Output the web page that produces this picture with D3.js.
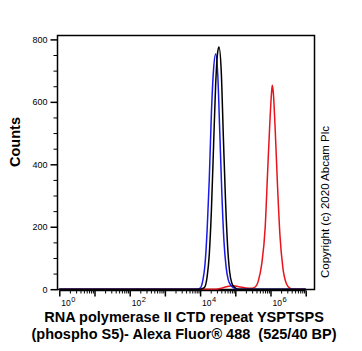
<!DOCTYPE html>
<html><head><meta charset="utf-8">
<script src="https://cdn.jsdelivr.net/npm/d3@7"></script>
<style>body{margin:0;background:#fff}svg{display:block}</style>
</head><body>
<script>
// log10 fluorescence positions and counts
const blueX = [0, 3.9, 4.0, 4.08, 4.14, 4.2, 4.26, 4.32, 4.38, 4.443, 4.5, 4.56, 4.62, 4.68, 4.74, 4.8, 4.88, 4.96, 5.05, 7];
const blueY = [0, 0, 3, 30, 80, 190, 350, 560, 700, 753, 690, 500, 300, 150, 70, 30, 12, 4, 0, 0];
const blackX = [0, 4.0, 4.12, 4.2, 4.26, 4.32, 4.38, 4.44, 4.5, 4.537, 4.6, 4.66, 4.72, 4.78, 4.84, 4.9, 4.98, 5.08, 7];
const blackY = [0, 0, 5, 40, 110, 250, 450, 650, 760, 776, 700, 490, 290, 140, 55, 20, 6, 0, 0];
const redX = [0, 4.45, 4.6, 4.75, 4.9, 5.0, 5.15, 5.3, 5.45, 5.55, 5.65, 5.75, 5.85, 5.92, 5.98, 6.03, 6.051, 6.08, 6.13, 6.2, 6.27, 6.35, 6.45, 6.55, 6.65, 7];
const redY = [0, 0, 3, 8, 11, 10, 7, 4, 3, 6, 25, 80, 200, 380, 530, 630, 653, 630, 520, 330, 170, 70, 18, 3, 0, 0];
const yTicks = [0, 200, 400, 600, 800];
const xDecades = [0, 2, 4, 6];
const titleLines = ["RNA polymerase II CTD repeat YSPTSPS", "(phospho S5)- Alexa Fluor\u00AE 488  (525/40 BP)"];

const W = 362, H = 351;
const svg = d3.select("body").append("svg").attr("width", W).attr("height", H);
const font = "Arial, 'Liberation Sans', sans-serif";

const x = d3.scaleLog().domain([1, 1e7]).range([59.3, 305.7]);
const y = d3.scaleLinear().domain([0, 800]).range([289.2, 39.4]);

// frame
svg.append("rect").attr("x", 57.5).attr("y", 35.5).attr("width", 257).attr("height", 254)
  .attr("fill", "none").attr("stroke", "#000").attr("stroke-width", 1.5);

// curves
const line = d3.line().x(d => x(Math.pow(10, d[0]))).y(d => y(d[1])).curve(d3.curveMonotoneX);
const series = [
  {xs: redX, ys: redY, c: "#e8141c"},
  {xs: blueX, ys: blueY, c: "#1a1ae6"},
  {xs: blackX, ys: blackY, c: "#000000"}
];
series.forEach(s => {
  svg.append("path").datum(s.xs.map((v, i) => [v, s.ys[i]]))
    .attr("d", line).attr("fill", "none").attr("stroke", s.c).attr("stroke-width", 1.5);
});

// y axis
const yAxis = d3.axisLeft(y).tickValues(yTicks).tickSize(7).tickPadding(3).tickFormat(d3.format("d"));
const ga = svg.append("g").attr("transform", "translate(57.5,0)").call(yAxis);
ga.select(".domain").remove();
ga.selectAll("line").attr("stroke-width", 1.5);
ga.selectAll("text").attr("font-family", font).attr("font-size", 9).attr("fill", "#000");
const yMinor = d3.range(0, 801, 50).filter(v => v % 200 !== 0);
svg.append("g").attr("transform", "translate(57.5,0)")
  .call(d3.axisLeft(y).tickValues(yMinor).tickSize(4).tickFormat(""))
  .call(g => g.select(".domain").remove())
  .selectAll("line").attr("stroke-width", 1);

// x axis
const xMajor = d3.range(0, 8).map(d => Math.pow(10, d));
const xMinor = [];
for (let dcd = 0; dcd < 7; dcd++) for (let m = 2; m <= 9; m++) xMinor.push(m * Math.pow(10, dcd));
const gx = svg.append("g").attr("transform", "translate(0,290.5)");
gx.call(d3.axisBottom(x).tickValues(xMajor).tickSize(6).tickFormat(""));
gx.select(".domain").attr("d", `M${x(1)},0H${x(1e7)}`).attr("stroke-width", 1.5);
gx.selectAll(".tick line").attr("stroke-width", 1.5);
svg.append("g").attr("transform", "translate(0,290.5)")
  .call(d3.axisBottom(x).tickValues(xMinor).tickSize(3).tickFormat(""))
  .call(g => g.select(".domain").remove());

xDecades.forEach(dcd => {
  const x0 = x(Math.pow(10, dcd)) + 2;
  svg.append("text").attr("x", x0).attr("y", 305.5)
    .attr("font-family", font).attr("font-size", 8.5).attr("fill", "#000").text("10");
  svg.append("text").attr("x", x0 + 10).attr("y", 301.5)
    .attr("font-family", font).attr("font-size", 7.5).attr("fill", "#000").text(dcd);
});

// y label
svg.append("text").attr("transform", "translate(20,142) rotate(-90)")
  .attr("text-anchor", "middle").attr("font-family", font).attr("font-weight", "bold")
  .attr("font-size", 14.5).text("Counts");

// title
titleLines.forEach((t, i) => {
  svg.append("text").attr("x", 184).attr("y", 321.5 + i * 17.5).attr("text-anchor", "middle")
    .style("white-space", "pre")
    .attr("font-family", font).attr("font-weight", "bold").attr("font-size", 14.5).text(t);
});

// copyright
svg.append("text").attr("transform", "translate(329,202) rotate(-90)")
  .attr("text-anchor", "middle").attr("font-family", font).attr("font-size", 11.5)
  .text("Copyright (c) 2020 Abcam Plc");
</script>
</body></html>
